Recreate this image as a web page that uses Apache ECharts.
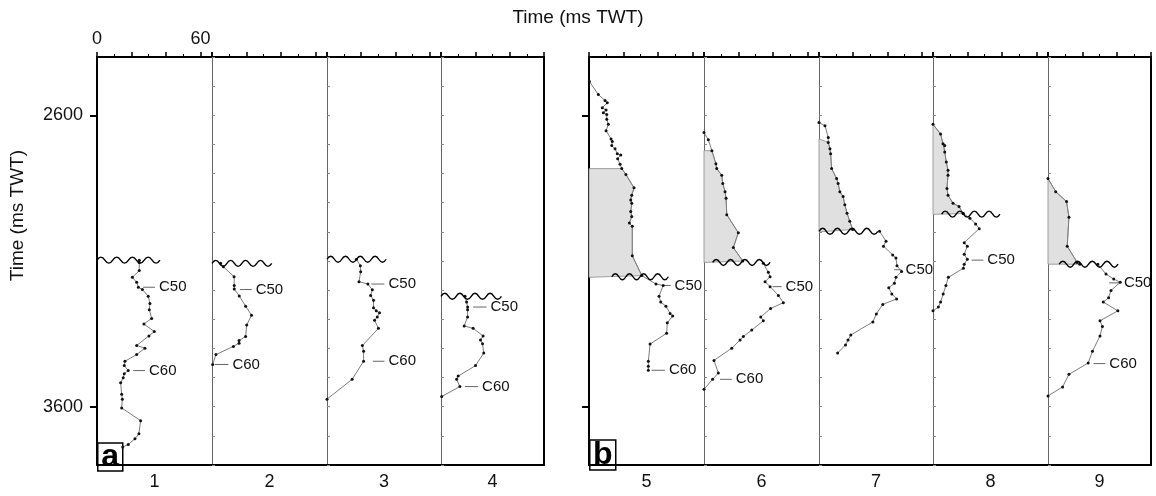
<!DOCTYPE html>
<html>
<head>
<meta charset="utf-8">
<script src="https://cdn.jsdelivr.net/npm/echarts@6/dist/echarts.min.js"></script>
<style>
  html, body { margin: 0; padding: 0; background: #fff; }
  #chart { width: 1156px; height: 496px; }
</style>
</head>
<body>
<div id="chart"></div>
<script>
// well columns 1-9, x = interval thickness (ms), y = time (ms TWT)
const columns = ['1', '2', '3', '4', '5', '6', '7', '8', '9'];

const profile1 = [[24.5,3097],[24.5,3105],[24.5,3133],[20.5,3156],[23,3173],[24,3190],[26.3,3198],[29.7,3221],[30.7,3246],[30.3,3267],[31.7,3297],[27.2,3316],[33.2,3342],[30.1,3357],[23,3390],[27.8,3399],[23,3421],[16.2,3444],[15.8,3459],[18.1,3476],[15.8,3487],[15.2,3501],[13.7,3518],[14.3,3557],[14.7,3574],[14.3,3604],[25.3,3648],[24.3,3693],[22,3710],[18.1,3730],[14.9,3738]];
const profile2 = [[5,3108],[6.6,3120],[12.8,3154],[12.9,3184],[12.9,3196],[15.8,3220],[19.5,3255],[22.9,3286],[20.1,3320],[19.5,3359],[15.7,3373],[15.7,3382],[12.4,3393],[2.3,3421],[0.4,3455]];
const profile3 = [[17.2,3094],[19.5,3116],[19.7,3137],[18.7,3171],[23.9,3179],[26.5,3199],[25.5,3218],[27.2,3235],[27.2,3260],[28.8,3271],[30.7,3278],[29.4,3292],[27.8,3303],[30.1,3331],[20.7,3390],[21.4,3410],[21.4,3444],[14.7,3506],[0,3574]];
const profile4 = [[14,3221],[14.9,3241],[15.5,3258],[15.5,3267],[15.5,3292],[13.5,3323],[18.7,3331],[24.5,3357],[23,3371],[24.2,3384],[24.9,3416],[20.1,3459],[10,3495],[9.1,3506],[11,3531],[0.4,3565]];
const profile5 = [[0.2,2484],[5.4,2529],[9.3,2549],[10.6,2557],[7.7,2574],[9.9,2582],[8.3,2591],[10.3,2597],[10.3,2614],[11.2,2631],[9.9,2653],[12.8,2681],[13.5,2690],[13.2,2704],[15.1,2715],[16.4,2732],[18.4,2736],[16.6,2749],[18,2768],[19,2783],[21.4,2803],[26.1,2849],[24.8,2874],[24.2,2891],[24.8,2902],[24.2,2930],[24.8,2947],[23.4,2970],[25.1,2981],[25.1,3082],[30.6,3150],[38.8,3179],[43,3184],[40.6,3221],[41.6,3241],[44.6,3255],[47,3280],[48.5,3289],[45.4,3312],[45,3348],[35.4,3385],[34.4,3444],[34.4,3461],[34.4,3475]];
const profile6Upper = [[0,2659],[2.5,2684],[4.6,2722],[6.9,2766],[7.4,2783],[10.3,2806],[10.9,2834],[12.2,2862],[12.8,2885],[13.2,2941],[19.9,3003],[17,3054],[22.5,3100]];
const profile6Lower = [[34.4,3108],[37.3,3139],[38.3,3154],[35.4,3171],[38.3,3188],[43.1,3218],[46,3243],[38.6,3263],[32.9,3292],[34.4,3305],[27.7,3337],[22.8,3359],[20.9,3371],[16.1,3399],[5.8,3441],[8.3,3484],[5,3506],[0,3540]];
const profile7Upper = [[0,2625],[3.5,2636],[5.4,2676],[5.4,2693],[6.4,2715],[6.8,2732],[7.4,2783],[10.3,2817],[11.2,2834],[12.2,2862],[14.1,2879],[15.1,2907],[16.4,2936],[18,2964],[19.7,2992]];
const profile7Lower = [[35.4,2998],[39.2,3032],[37.7,3049],[43.1,3079],[45,3090],[45.6,3116],[48.3,3136],[45,3156],[44.1,3176],[40.8,3192],[42.6,3213],[45.4,3230],[37.3,3249],[33.5,3282],[31.5,3309],[18.6,3354],[17,3371],[15.5,3388],[10.9,3416]];
const profile8Upper = [[0,2631],[4.4,2664],[5.8,2698],[6.8,2704],[6.8,2726],[7.7,2760],[8.7,2789],[8.7,2806],[8.1,2851],[8.7,2874],[11.6,2902],[15.1,2913],[17.5,2937]];
const profile8Lower = [[17.5,2937],[21.4,2953],[24.7,2973],[26.8,2989],[18.1,3037],[19.9,3049],[18.1,3077],[19.9,3094],[18.1,3111],[17.6,3125],[8.9,3156],[7.5,3184],[5.9,3213],[4.4,3241],[3.1,3258],[0,3271]];
const profile9Upper = [[0,2817],[4.5,2862],[10.8,2896],[12.2,2950],[11.2,3049],[17,3105],[18.5,3111]];
const profile9Lower = [[29,3111],[33.8,3145],[38.3,3162],[42.1,3173],[36.7,3201],[35.3,3226],[32.2,3241],[40.7,3271],[30.3,3305],[31.7,3325],[30.3,3357],[25.9,3410],[23.4,3450],[12.2,3489],[8.5,3532],[0,3563]];

const profiles = [
  [profile1], [profile2], [profile3], [profile4], [profile5],
  [profile6Upper, profile6Lower], [profile7Upper, profile7Lower],
  [profile8Upper, profile8Lower], [profile9Upper, profile9Lower]
];

// unconformity: start, end (ms) and time (ms TWT)
const waveStart = [0, 0, 0, 0, 13.2, 5, 0, 5, 6.5];
const waveEnd = [36.5, 34.6, 34.6, 35.2, 46, 38.3, 34.4, 38.8, 40.8];
const waveTime = [3097, 3108, 3094, 3221, 3154, 3105, 2998, 2939, 3111];

// shaded (eroded) interval top / base
const shadeTop = [null, null, null, null, 2783, 2721, 2681, 2631, 2817];
const shadeBase = [null, null, null, null, 3156, 3105, 3000, 2940, 3111];

// horizon picks [x0, x1, time]
const c50 = [[26.7,33.6,3190],[16.2,23,3198],[25.9,33.6,3179],[18.7,26.5,3258],[43,47.3,3184],[39.8,45,3188],[44,48.3,3130],[22.4,29.2,3097],[35.6,41.9,3175]];
const c60 = [[21,27.8,3476],[1.7,9.5,3455],[26.8,33.6,3444],[13.9,21.6,3531],[36.3,44,3475],[9.3,16.1,3506],null,null,[26.5,33.4,3452]];

const yTicks = [2600, 3600];
const topLabels = [0, 60];

// layout
const colLeft = [97, 212, 327, 441, 589, 704, 819, 933, 1048];
const colWidth = [115, 115, 114, 103, 115, 115, 114, 115, 103];
const colMax = [66.67, 66.67, 66.67, 60, 66.67, 66.67, 66.67, 66.67, 60];
const gridTop = 57, gridHeight = 413;
const FONT = 'Liberation Sans, Arial, sans-serif';

let chart = echarts.init(document.getElementById('chart'));

let grid = [], xAxis = [], yAxis = [], series = [];

columns.forEach((name, i) => {
  let first = (i === 0 || i === 4), last = (i === 3 || i === 8);
  grid.push({ left: colLeft[i], top: gridTop, width: colWidth[i], height: gridHeight, containLabel: false });
  xAxis.push({
    type: 'value', gridIndex: i, position: 'top', min: 0, max: colMax[i], interval: 20,
    axisLine: { onZero: false, lineStyle: { color: '#000', width: 2 } },
    axisTick: { length: 5, lineStyle: { color: '#000', width: 1.5 } },
    minorTick: { show: true, splitNumber: 2, length: 3, lineStyle: { color: '#000', width: 1 } },
    axisLabel: {
      show: i === 0, fontSize: 18, fontFamily: FONT, color: '#111', margin: 9,
      formatter: v => topLabels.indexOf(v) >= 0 ? String(v) : ''
    },
    splitLine: { show: false }
  });
  xAxis.push({
    type: 'value', gridIndex: i, position: 'bottom', min: 0, max: colMax[i],
    name: name, nameLocation: 'middle', nameGap: 8,
    nameTextStyle: { fontSize: 18, fontFamily: FONT, color: '#111' },
    axisLine: { onZero: false, lineStyle: { color: '#000', width: 2 } },
    axisTick: { show: false }, axisLabel: { show: false }, splitLine: { show: false }
  });
  yAxis.push(first ? {
    type: 'value', gridIndex: i, inverse: true, min: 2400, max: 3800, position: 'left',
    axisLine: { show: true, onZero: false, lineStyle: { color: '#000', width: 2 } },
    axisTick: { show: true, customValues: yTicks, length: 7, lineStyle: { color: '#000', width: 2 } },
    axisLabel: {
      show: i === 0, customValues: yTicks, fontSize: 18, fontFamily: FONT, color: '#111', margin: 14,
      formatter: v => String(v)
    },
    splitLine: { show: false }
  } : {
    type: 'value', gridIndex: i, inverse: true, min: 2400, max: 3800, interval: 100, position: 'left',
    axisLine: { show: true, onZero: false, lineStyle: { color: '#666', width: 1 } },
    axisTick: { show: true, inside: true, length: 3, lineStyle: { color: '#888', width: 1 } },
    axisLabel: { show: false }, splitLine: { show: false }
  });
  let yIndex = yAxis.length - 1;
  if (last) {
    yAxis.push({
      type: 'value', gridIndex: i, inverse: true, min: 2400, max: 3800, position: 'right',
      axisLine: { show: true, onZero: false, lineStyle: { color: '#000', width: 2 } },
      axisTick: { show: false }, axisLabel: { show: false }, splitLine: { show: false }
    });
  }
  let xIndex = i * 2;

  // shaded eroded interval
  if (shadeTop[i] != null) {
    let src = profiles[i][0];
    let pts = [[0, shadeTop[i]]]
      .concat(src.filter(p => p[1] >= shadeTop[i] && p[1] <= shadeBase[i]))
      .concat([[0, shadeBase[i]]]);
    series.push({
      type: 'custom', xAxisIndex: xIndex, yAxisIndex: yIndex, silent: true, z: 1,
      data: [pts[0]],
      renderItem: (params, api) => ({
        type: 'polygon',
        shape: { points: pts.map(p => api.coord(p)) },
        style: { fill: '#e0e0e0', stroke: '#8a8a8a', lineWidth: 0.8 }
      })
    });
  }

  // interval thickness profiles
  profiles[i].forEach(p => {
    series.push({
      type: 'line', xAxisIndex: xIndex, yAxisIndex: yIndex, data: p, z: 3,
      symbol: 'circle', symbolSize: 3, showAllSymbol: true,
      itemStyle: { color: '#111' },
      lineStyle: { color: '#7d7d7d', width: 1 }
    });
  });

  // unconformity
  series.push({
    type: 'custom', xAxisIndex: xIndex, yAxisIndex: yIndex, silent: true, z: 4,
    encode: { x: [0, 1], y: 2 },
    data: [[waveStart[i], waveEnd[i], waveTime[i]]],
    renderItem: (params, api) => {
      let p0 = api.coord([api.value(0), api.value(2)]);
      let p1 = api.coord([api.value(1), api.value(2)]);
      let n = Math.max(2, Math.round((p1[0] - p0[0]) / 7.5));
      let hw = (p1[0] - p0[0]) / n;
      let d = 'M' + p0[0] + ' ' + p0[1];
      for (let k = 0; k < n; k++) {
        let x = p0[0] + hw * k, s = k % 2 === 0 ? -1 : 1;
        d += ' Q' + (x + hw / 2) + ' ' + (p0[1] + s * 6) + ' ' + (x + hw) + ' ' + p0[1];
      }
      return { type: 'path', shape: { pathData: d }, style: { fill: null, stroke: '#000', lineWidth: 1.4 } };
    }
  });

  // horizon picks
  [['C50', c50[i]], ['C60', c60[i]]].forEach(([label, m]) => {
    if (!m) return;
    series.push({
      type: 'line', xAxisIndex: xIndex, yAxisIndex: yIndex, z: 2,
      data: [[m[0], m[2]], [m[1], m[2]]], symbol: 'none',
      lineStyle: { color: '#666', width: 1 },
      endLabel: { show: true, formatter: label, fontSize: 15, fontFamily: FONT, color: '#111', distance: 4 }
    });
  });
});

let option = {
  animation: false,
  backgroundColor: '#fff',
  title: {
    text: 'Time (ms TWT)', left: 'center', top: 3,
    textStyle: { fontSize: 19, fontWeight: 'normal', fontFamily: FONT, color: '#111' }
  },
  grid: grid,
  xAxis: xAxis,
  yAxis: yAxis,
  series: series,
  graphic: [
    {
      type: 'text', left: 8, top: 150, rotation: Math.PI / 2,
      style: { text: 'Time (ms TWT)', fontSize: 19, fontFamily: FONT, fill: '#111' }
    },
    {
      type: 'group', left: 97, top: 441,
      children: [
        { type: 'rect', shape: { x: 0, y: 0, width: 25, height: 28 }, style: { fill: '#fff', stroke: '#000', lineWidth: 1.5 } },
        { type: 'text', x: 12.5, y: 14, style: { text: 'a', fontSize: 32, fontWeight: 'bold', fontFamily: FONT, fill: '#000', align: 'center', verticalAlign: 'middle' } }
      ]
    },
    {
      type: 'group', left: 589, top: 439,
      children: [
        { type: 'rect', shape: { x: 0, y: 0, width: 26, height: 30 }, style: { fill: '#fff', stroke: '#000', lineWidth: 1.5 } },
        { type: 'text', x: 13, y: 15, style: { text: 'b', fontSize: 32, fontWeight: 'bold', fontFamily: FONT, fill: '#000', align: 'center', verticalAlign: 'middle' } }
      ]
    }
  ]
};

chart.setOption(option);
</script>
</body>
</html>
